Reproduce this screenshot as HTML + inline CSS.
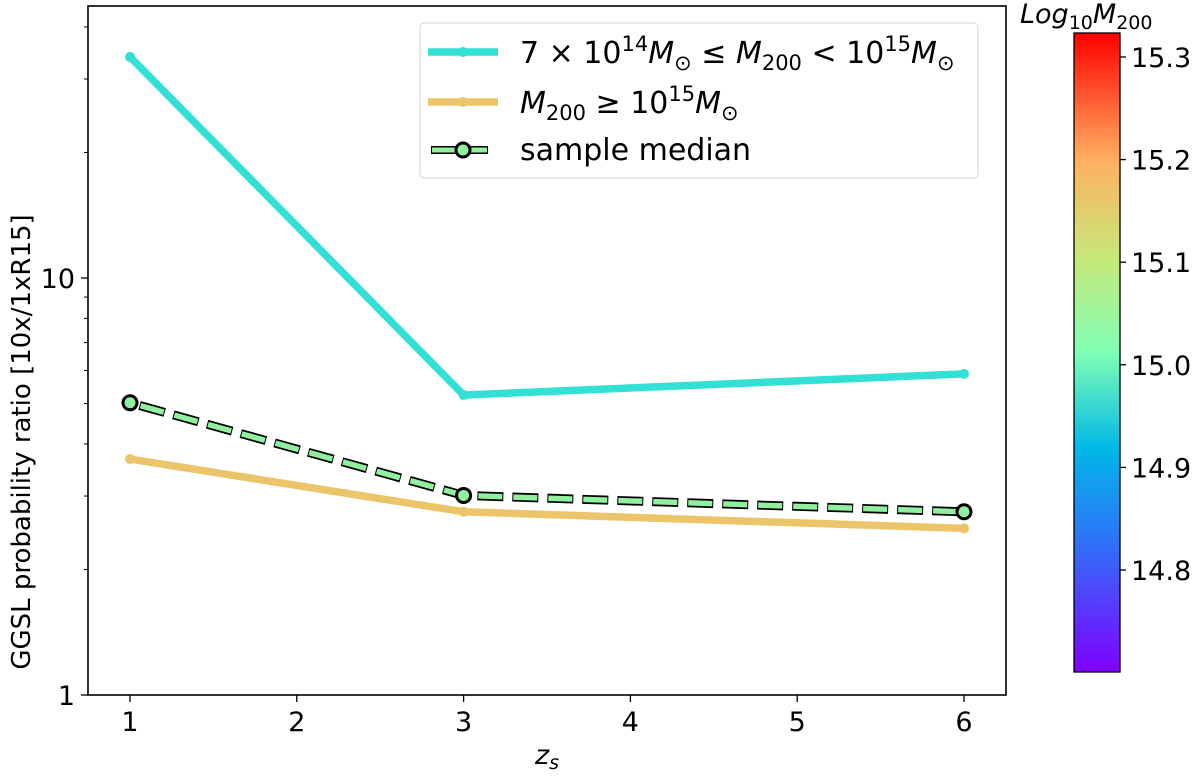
<!DOCTYPE html>
<html><head><meta charset="utf-8"><style>
body{margin:0;background:#fff;width:1200px;height:773px;overflow:hidden;font-family:"DejaVu Sans","Liberation Sans",sans-serif}
svg text{font-family:"DejaVu Sans","Liberation Sans",sans-serif}
</style></head><body>
<svg id="c" width="1200" height="773" xmlns="http://www.w3.org/2000/svg">
<defs>
<linearGradient id="rb" x1="0" y1="1" x2="0" y2="0">
<stop offset="0" stop-color="#8000ff"/><stop offset="0.2" stop-color="#3070f8"/><stop offset="0.35" stop-color="#00b8e8"/>
<stop offset="0.5" stop-color="#80ffb4"/><stop offset="0.65" stop-color="#c8e878"/><stop offset="0.8" stop-color="#ffb060"/><stop offset="1" stop-color="#ff0000"/>
</linearGradient>
</defs>
<g id="plot"></g>
</svg>
<script>
const zs=[1,3,6];
const cyanVals=[33.9,5.24,5.89];
const orangeVals=[3.68,2.75,2.51];
const medianVals=[5.02,3.01,2.75];
const xTicks=[1,2,3,4,5,6];
const yTicks=[1,10];
const cbTicks=[14.8,14.9,15.0,15.1,15.2,15.3];

const L=88,R=1006,T=6,B=695;
const xMin=1-42/166.8,xMax=6+42/166.8,yMinL=0,yMaxL=(695-6)/417;
const X=v=>L+(v-xMin)/(xMax-xMin)*(R-L);
const Y=v=>B-(Math.log10(v)-yMinL)/(yMaxL-yMinL)*(B-T);
const NS="http://www.w3.org/2000/svg";
const g=document.getElementById('plot');
function mk(t,a,txt){const e=document.createElementNS(NS,t);for(const k in a)e.setAttribute(k,a[k]);if(txt!==undefined)e.textContent=txt;g.appendChild(e);return e;}

let e=mk('rect',{x:L,y:T,width:R-L,height:B-T,fill:'none',stroke:'#000','stroke-width':1.6});



xTicks.forEach(t=>{const x=X(t);
 let a=mk('line',{x1:x,x2:x,y1:B,y2:B+7,stroke:'#000','stroke-width':1.3});
 
 
 let b=mk('text',{x:x,y:B+36,'font-size':27,'text-anchor':'middle'},String(t));
 
 
});
yTicks.forEach(t=>{const y=Y(t);
 let a=mk('line',{x1:L-7,x2:L,y1:y,y2:y,stroke:'#000','stroke-width':1.3});
 
 
 let b=mk('text',{x:L-13,y:y+10,'font-size':27,'text-anchor':'end'},String(t));
 
 
});
for(let d=0;d<2;d++)for(let m=2;m<10;m++){const v=m*Math.pow(10,d);if(Math.log10(v)>yMaxL)continue;const y=Y(v);
 let a=mk('line',{x1:L-4,x2:L,y1:y,y2:y,stroke:'#000','stroke-width':1});
 
 }

e=mk('text',{x:X(3.5),y:764,'font-size':27,'font-style':'italic','text-anchor':'middle'},'z');


let s=document.createElementNS(NS,'tspan');s.setAttribute('font-size','19');s.setAttribute('dy','5');s.textContent='s';e.appendChild(s);
e=mk('text',{x:0,y:0,'font-size':26,'text-anchor':'middle',transform:'translate(30,442) rotate(-90)'},'GGSL probability ratio [10x/1xR15]');



function series(vals,color,w,name){
 const pts=zs.map((z,i)=>X(z)+','+Y(vals[i])).join(' ');
 let p=mk('polyline',{points:pts,fill:'none',stroke:color,'stroke-width':w});
 
 
 zs.forEach((z,i)=>{let c=mk('circle',{cx:X(z),cy:Y(vals[i]),r:5,fill:color});
  
  });
}
series(cyanVals,'#33e0d5',7.5,'cyan-series');
series(orangeVals,'#ecc56a',7.5,'orange-series');
{
 const pts=zs.map((z,i)=>X(z)+','+Y(medianVals[i])).join(' ');
 let p=mk('polyline',{points:pts,fill:'none',stroke:'#000','stroke-width':9,'stroke-dasharray':'26 9','stroke-dashoffset':-10});
 
 
 p=mk('polyline',{points:pts,fill:'none',stroke:'#90f0a0','stroke-width':5.5,'stroke-dasharray':'24 11','stroke-dashoffset':-11});
 
 
 zs.forEach((z,i)=>{let c=mk('circle',{cx:X(z),cy:Y(medianVals[i]),r:7,fill:'#90f0a0',stroke:'#000','stroke-width':3});
  
  });
}

e=mk('rect',{x:420,y:23,width:558,height:155,rx:4,fill:'#fff',stroke:'#ddd','stroke-width':1.2});


const leg=[{c:'#33e0d5',y:52,t:'7 × 10<tspan font-size="21" dy="-12">14</tspan><tspan dy="12" font-style="italic">M</tspan><tspan font-size="21" dy="7">⊙</tspan><tspan dy="-7"> ≤ </tspan><tspan font-style="italic">M</tspan><tspan font-size="21" dy="7">200</tspan><tspan dy="-7"> &lt; 10</tspan><tspan font-size="21" dy="-12">15</tspan><tspan dy="12" font-style="italic">M</tspan><tspan font-size="21" dy="7">⊙</tspan>'},
 {c:'#ecc56a',y:102,t:'<tspan font-style="italic">M</tspan><tspan font-size="21" dy="7">200</tspan><tspan dy="-7"> ≥ 10</tspan><tspan font-size="21" dy="-12">15</tspan><tspan dy="12" font-style="italic">M</tspan><tspan font-size="21" dy="7">⊙</tspan>'}];
leg.forEach((l,i)=>{
 let a=mk('line',{x1:428,x2:498,y1:l.y,y2:l.y,stroke:l.c,'stroke-width':7.5});
 
 
 a=mk('circle',{cx:463,cy:l.y,r:5,fill:l.c});
 let t=mk('text',{x:520,y:l.y+11,'font-size':30});t.innerHTML=l.t;
 
 
});
e=mk('line',{x1:431,x2:488,y1:150,y2:150,stroke:'#000','stroke-width':8});
e=mk('line',{x1:432,x2:487,y1:150,y2:150,stroke:'#90f0a0','stroke-width':5});
e=mk('circle',{cx:463,cy:150,r:7,fill:'#90f0a0',stroke:'#000','stroke-width':3});


e=mk('text',{x:520,y:160,'font-size':30},'sample median');



const cT=33,cB=672,cL=1074,cR=1120;
const CY=v=>570-(v-14.8)/0.1*102.6;
e=mk('rect',{x:cL,y:cT,width:cR-cL,height:cB-cT,fill:'url(#rb)',stroke:'#000','stroke-width':1.3});


cbTicks.forEach(t=>{const y=CY(t);
 let a=mk('line',{x1:cR,x2:cR+6,y1:y,y2:y,stroke:'#000','stroke-width':1.3});
 
 
 a=mk('text',{x:cR+11,y:y+10,'font-size':27},t.toFixed(1));
 
 
});
e=mk('text',{x:1020,y:23,'font-size':27});
e.innerHTML='<tspan font-style="italic">Log</tspan><tspan font-size="19" dy="6">10</tspan><tspan dy="-6" font-style="italic">M</tspan><tspan font-size="19" dy="6">200</tspan>';


</script>
</body></html>
